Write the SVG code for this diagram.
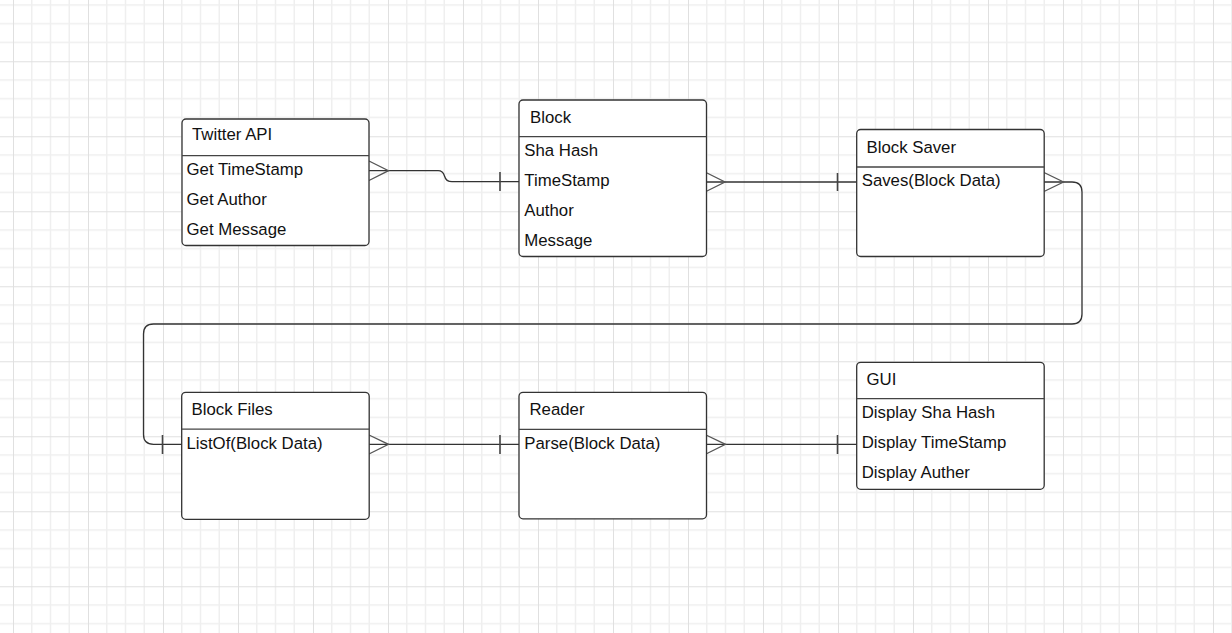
<svg xmlns="http://www.w3.org/2000/svg" width="1232" height="633" viewBox="0 0 1232 633">
<defs>
<pattern id="grid" x="13" y="-13.75" width="75" height="75" patternUnits="userSpaceOnUse">
<path d="M18.75 0V75M37.5 0V75M56.25 0V75M0 18.75H75M0 37.5H75M0 56.25H75" stroke="#efefef" stroke-width="1.5" fill="none"/>
<path d="M0 0V75M0 0H75" stroke="#e0e0e0" stroke-width="2" fill="none"/>
</pattern>
<style>
.box{fill:#fff;stroke:#333;stroke-width:1.3}
.div{stroke:#444;stroke-width:1.3}
.t{font-family:"Liberation Sans",Arial,sans-serif;font-size:16.8px;fill:#111}
.ln{fill:none;stroke:#333;stroke-width:1.3}
.cf{fill:none;stroke:#555;stroke-width:1.3}
.tick{stroke:#444;stroke-width:1.6}
</style>
</defs>
<rect width="1232" height="633" fill="#fff"/>
<rect width="1232" height="633" fill="url(#grid)"/>

<g id="connectors">
<!-- Twitter API -> Block -->
<path class="ln" d="M369 170.7H438Q443 170.7 444.5 176Q446 181.7 452 181.7H519"/>
<path class="cf" d="M369 161L388.5 170.7L369 180.5"/>
<line class="tick" x1="500" y1="172" x2="500" y2="191"/>
<!-- Block -> Block Saver -->
<path class="ln" d="M706 182H857"/>
<path class="cf" d="M706 172.5L725 182L706 191.5"/>
<line class="tick" x1="837.5" y1="173" x2="837.5" y2="191"/>
<!-- Block Saver -> Block Files -->
<path class="ln" d="M1044 182H1072Q1082 182 1082 192V314Q1082 324 1072 324H153.5Q143.5 324 143.5 334V434.5Q143.5 444.3 153.5 444.3H182"/>
<path class="cf" d="M1044 172.5L1063.5 182L1044 191.5"/>
<line class="tick" x1="162.5" y1="435" x2="162.5" y2="454"/>
<!-- Block Files -> Reader -->
<path class="ln" d="M369 444.3H519"/>
<path class="cf" d="M369 435L388.5 444.3L369 454"/>
<line class="tick" x1="500" y1="435" x2="500" y2="454"/>
<!-- Reader -> GUI -->
<path class="ln" d="M706 444.3H857"/>
<path class="cf" d="M706 435L725.5 444.3L706 454"/>
<line class="tick" x1="837.5" y1="435" x2="837.5" y2="454"/>
</g>

<g id="twitter-api">
<rect class="box" x="182" y="119" width="187" height="126.5" rx="4"/>
<line class="div" x1="182" y1="155.7" x2="369" y2="155.7"/>
<text class="t" x="192" y="140">Twitter API</text>
<text class="t" x="186.5" y="175">Get TimeStamp</text>
<text class="t" x="186.5" y="205">Get Author</text>
<text class="t" x="186.5" y="235">Get Message</text>
</g>

<g id="block">
<rect class="box" x="519" y="100" width="187.5" height="156.5" rx="4"/>
<line class="div" x1="519" y1="136.7" x2="706.5" y2="136.7"/>
<text class="t" x="530" y="122.5">Block</text>
<text class="t" x="524.3" y="155.7">Sha Hash</text>
<text class="t" x="524.3" y="185.7">TimeStamp</text>
<text class="t" x="524.3" y="215.7">Author</text>
<text class="t" x="524.3" y="245.7">Message</text>
</g>

<g id="block-saver">
<rect class="box" x="856.7" y="129.5" width="187.5" height="127" rx="4"/>
<line class="div" x1="856.7" y1="167" x2="1044.2" y2="167"/>
<text class="t" x="866.5" y="152.5">Block Saver</text>
<text class="t" x="861.7" y="185.7">Saves(Block Data)</text>
</g>

<g id="block-files">
<rect class="box" x="181.7" y="392.3" width="187.5" height="127" rx="4"/>
<line class="div" x1="181.7" y1="429.2" x2="369.2" y2="429.2"/>
<text class="t" x="191.5" y="414.5">Block Files</text>
<text class="t" x="186.5" y="449">ListOf(Block Data)</text>
</g>

<g id="reader">
<rect class="box" x="519" y="392.3" width="187.5" height="126.5" rx="4"/>
<line class="div" x1="519" y1="429.3" x2="706.5" y2="429.3"/>
<text class="t" x="529.5" y="414.5">Reader</text>
<text class="t" x="524.3" y="448.5">Parse(Block Data)</text>
</g>

<g id="gui">
<rect class="box" x="856.7" y="362.3" width="187.5" height="127" rx="4"/>
<line class="div" x1="856.7" y1="398.7" x2="1044.2" y2="398.7"/>
<text class="t" x="866.5" y="384.5">GUI</text>
<text class="t" x="861.7" y="418.3">Display Sha Hash</text>
<text class="t" x="861.7" y="448.3">Display TimeStamp</text>
<text class="t" x="861.7" y="478.3">Display Auther</text>
</g>
</svg>
